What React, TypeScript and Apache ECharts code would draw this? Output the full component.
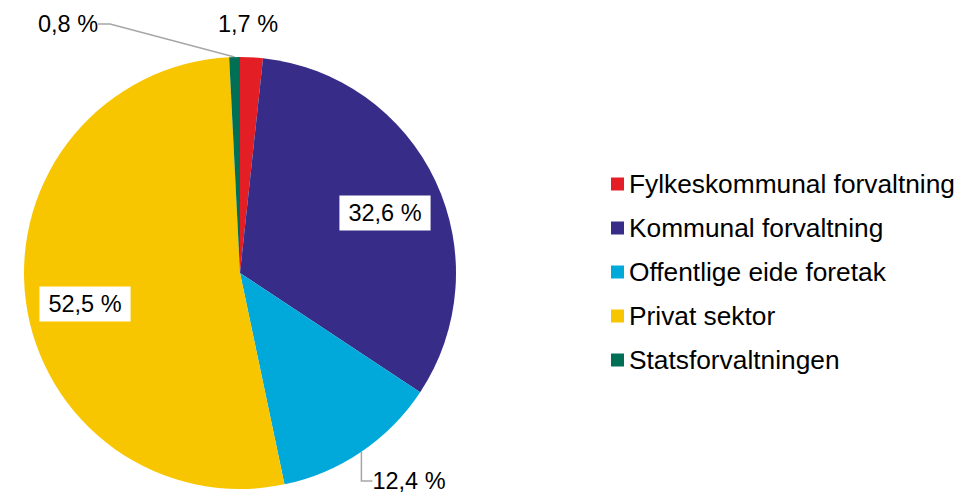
import React, { useEffect, useRef } from "react";
import * as echarts from "echarts";

const categories = [
  "Fylkeskommunal forvaltning",
  "Kommunal forvaltning",
  "Offentlige eide foretak",
  "Privat sektor",
  "Statsforvaltningen",
];
const values = [1.7, 32.6, 12.4, 52.5, 0.8];
const colors = ["#E31E24", "#372C87", "#00A9DA", "#F8C600", "#006F56"];
// label style kinds: "box" inside with white background, "out" outside with line, "plain" outside no line
const labelKinds = ["plain", "box", "out", "box", "out"];
const labelPositions: [number, number][] = [
  [248, 24],
  [385, 213],
  [409, 481],
  [85, 304],
  [68, 24],
];

const FONT = 'Arial, "Liberation Sans", sans-serif';

export default function App() {
  const ref = useRef<HTMLDivElement>(null);
  useEffect(() => {
    if (!ref.current) return;
    const chart = echarts.init(ref.current, undefined, { renderer: "svg" });
    const data = categories.map((name, i) => {
      const kind = labelKinds[i];
      return {
        name,
        value: values[i],
        itemStyle: { color: colors[i] },
        label:
          kind === "box"
            ? { backgroundColor: "#ffffff", padding: [6, 9, 5, 9] }
            : {},
        labelLine: { show: kind === "out" },
      };
    });
    chart.setOption({
      animation: false,
      legend: {
        orient: "vertical",
        left: 606,
        top: 166,
        icon: "rect",
        itemWidth: 13,
        itemHeight: 13,
        itemGap: 18,
        data: categories,
        textStyle: { fontFamily: FONT, fontSize: 26.3, color: "#000", lineHeight: 26 },
      },
      series: [
        {
          type: "pie",
          center: [240, 273],
          radius: 216,
          startAngle: 90,
          clockwise: true,
          avoidLabelOverlap: false,
          minShowLabelAngle: 0,
          data,
          label: {
            show: true,
            position: "outside",
            fontFamily: FONT,
            fontSize: 23.5,
            color: "#000",
            formatter: (p: any) => `${Number(p.value).toFixed(1).replace(".", ",")} %`,
          },
          labelLine: {
            show: true,
            length: 15,
            length2: 12,
            lineStyle: { color: "#A6A6A6", width: 1.5 },
          },
          labelLayout: (params: any) => {
            const pos = labelPositions[params.dataIndex];
            return { x: pos[0], y: pos[1], align: "center", verticalAlign: "middle" };
          },
        },
      ],
    });
    return () => chart.dispose();
  }, []);
  return (
    <div
      ref={ref}
      style={{ position: "fixed", left: 0, top: 0, width: 963, height: 493, background: "#fff" }}
    />
  );
}
